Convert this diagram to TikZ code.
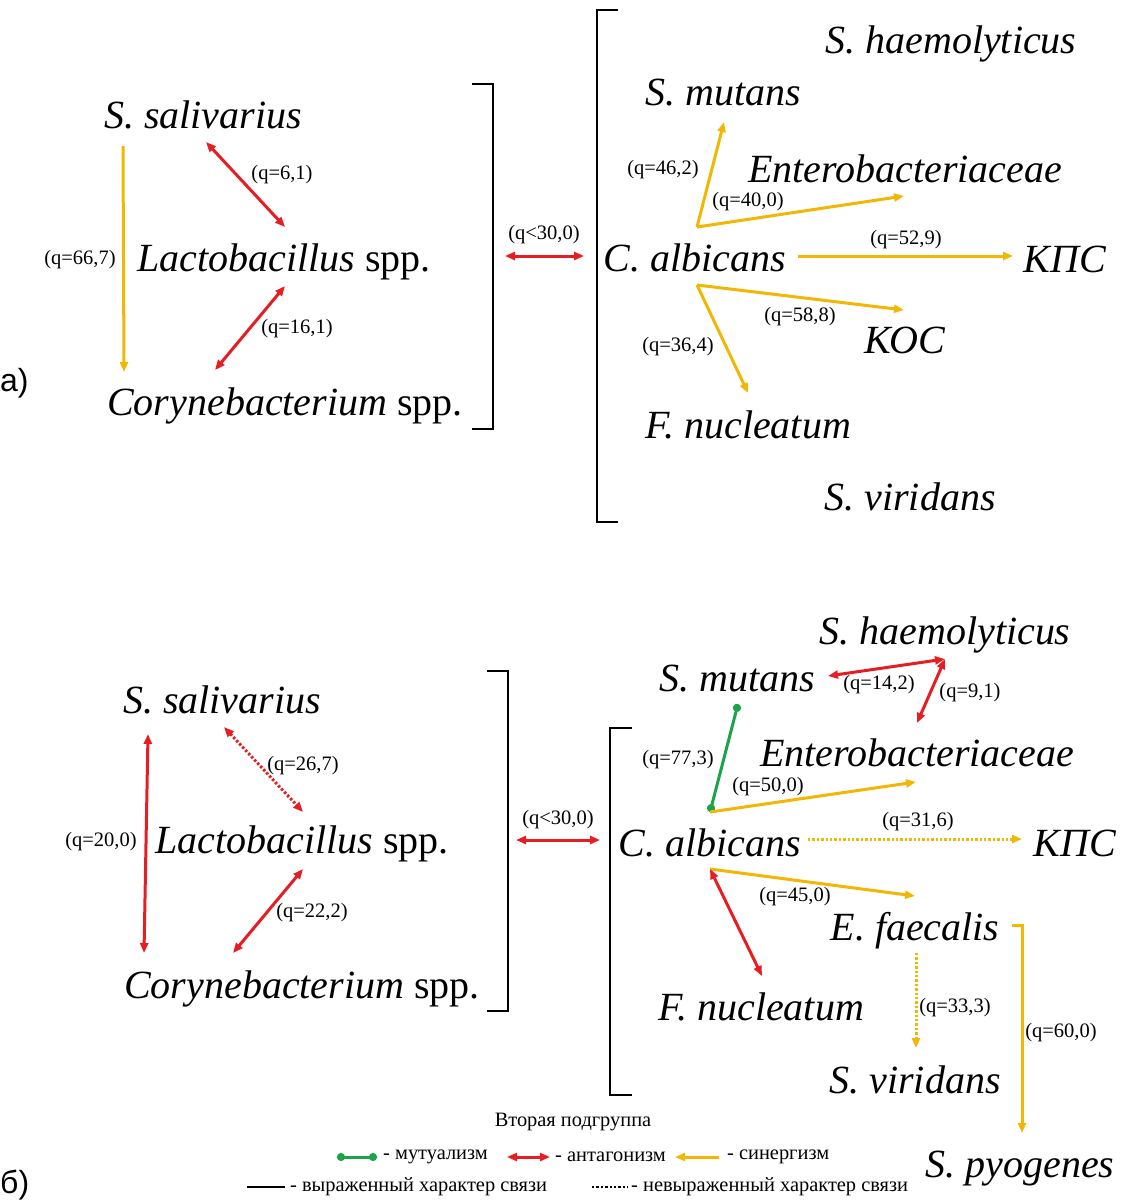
\documentclass[tikz,border=0pt]{standalone}
\usepackage{fontspec}
\setmainfont{Liberation Serif}
\setsansfont{Liberation Sans}
\usetikzlibrary{arrows.meta}
\definecolor{antred}{RGB}{230,30,36}
\definecolor{synyel}{RGB}{242,183,5}
\definecolor{mutgreen}{RGB}{26,163,74}

\begin{document}
\begin{tikzpicture}[
  x=1pt, y=-1pt,
  >={Triangle[length=10pt,width=8pt]},
  sp/.style={inner sep=0pt, anchor=base, font=\fontsize{40}{44}\selectfont\itshape},
  qlab/.style={inner sep=0pt, font=\fontsize{20.5}{24}\selectfont},
  leg/.style={inner sep=0pt, anchor=west, font=\fontsize{20.4}{24}\selectfont},
  panel/.style={inner sep=0pt, anchor=west, font=\sffamily\fontsize{32}{36}\selectfont},
  syn/.style={draw=synyel, line width=3pt, ->},
  ant/.style={draw=antred, line width=3pt, <->},
  mut/.style={draw=mutgreen, line width=3pt, {Circle[length=8pt]}-{Circle[length=8pt]}},
  weak/.style={dash pattern=on 2.4pt off 2pt},
  brk/.style={draw, line width=2.6pt}
]
\useasboundingbox (0,0) rectangle (1122,1203);

% а)
\node[sp] (salA) at (203,128) {S. salivarius};
\node[sp] (lacA) at (284,271) {Lactobacillus {\upshape spp.}};
\node[sp] (corA) at (285,415) {Corynebacterium {\upshape spp.}};
\node[sp] (haemA) at (951,53) {S. haemolyticus};
\node[sp] (mutA) at (723,105) {S. mutans};
\node[sp] (entA) at (905,182) {Enterobacteriaceae};
\node[sp] (albA) at (695,271) {C. albicans};
\node[sp] (kpsA) at (1065,272) {КПС};
\node[sp] (kosA) at (905,353) {КОС};
\node[sp] (fusA) at (748,438) {F. nucleatum};
\node[sp] (virA) at (910,510) {S. viridans};
\node[panel] (pa) at (0,383) {а)};

\draw[brk] (472,84) -| (493,429) -- (472,429);
\draw[brk] (618,10) -| (597,522) -- (618,522);
\coordinate (linkAl) at (505,256);
\coordinate (linkAr) at (584,256);

\draw[syn] ([shift={(-80,18)}]salA.base) -- ([shift={(-161,-43)}]corA.base);
\draw[ant] ([shift={(3,14)}]salA.base) -- ([shift={(1,-44)}]lacA.base);
\draw[ant] ([shift={(1,15)}]lacA.base) -- ([shift={(-70,-45)}]corA.base);
\draw[ant] (linkAl) -- (linkAr);
\coordinate (albTopA) at ([shift={(2,-44)}]albA.base);
\coordinate (albBotA) at ([shift={(2,14)}]albA.base);
\draw[syn] (albTopA) -- ([shift={(1,17)}]mutA.base);
\draw[syn] (albTopA) -- ([shift={(-1,14)}]entA.base);
\draw[syn] ([shift={(103,-15)}]albA.base) -- ([shift={(-52,-16)}]kpsA.base);
\draw[syn] (albBotA) -- ([shift={(-1,-43)}]kosA.base);
\draw[syn] (albBotA) -- ([shift={(0,-45)}]fusA.base);

\node[qlab] (qA1) at (80,260) {(q=66,7)};
\node[qlab] (qA2) at (282,175) {(q=6,1)};
\node[qlab] (qA3) at (297,329) {(q=16,1)};
\node[qlab] (qA4) at (544,235) {(q<30,0)};
\node[qlab] (qA5) at (663,170) {(q=46,2)};
\node[qlab] (qA6) at (748,202) {(q=40,0)};
\node[qlab] (qA7) at (906,240) {(q=52,9)};
\node[qlab] (qA8) at (800,317) {(q=58,8)};
\node[qlab] (qA9) at (678,347) {(q=36,4)};

% б)
\node[sp] (salB) at (222,713) {S. salivarius};
\node[sp] (lacB) at (302,853) {Lactobacillus {\upshape spp.}};
\node[sp] (corB) at (302,998) {Corynebacterium {\upshape spp.}};
\node[sp] (haemB) at (945,644) {S. haemolyticus};
\node[sp] (mutB) at (737,691) {S. mutans};
\node[sp] (entB) at (917,766) {Enterobacteriaceae};
\node[sp] (albB) at (710,856) {C. albicans};
\node[sp] (kpsB) at (1075,856) {КПС};
\node[sp] (faeB) at (915,940) {E. faecalis};
\node[sp] (fusB) at (761,1020) {F. nucleatum};
\node[sp] (virB) at (915,1093) {S. viridans};
\node[sp] (pyoB) at (1020,1177) {S. pyogenes};
\node[panel] (pb) at (0,1185) {б)};

\draw[brk] (487,671) -| (508,1011) -- (487,1011);
\draw[brk] (632,728) -| (610,1095) -- (632,1095);
\coordinate (linkBl) at (516,840);
\coordinate (linkBr) at (600,840);

\draw[ant] ([shift={(-74,21)}]salB.base) -- ([shift={(-158,-45)}]corB.base);
\draw[ant, weak] ([shift={(2,14)}]salB.base) -- ([shift={(1,-41)}]lacB.base);
\draw[ant] ([shift={(1,16)}]lacB.base) -- ([shift={(-69,-45)}]corB.base);
\draw[ant] (linkBl) -- (linkBr);
\coordinate (haemV) at ([shift={(0,15)}]haemB.base);
\draw[ant] ([shift={(91,-15)}]mutB.base) -- (haemV);
\draw[ant] (haemV) -- ([shift={(0,-43)}]entB.base);
\coordinate (albTopB) at ([shift={(0,-44)}]albB.base);
\coordinate (albBotB) at ([shift={(0,13)}]albB.base);
\draw[mut] ([shift={(1,13)}]mutB.base) -- (albTopB);
\draw[syn] (albTopB) -- ([shift={(-1,16)}]entB.base);
\draw[syn, weak] ([shift={(98,-17)}]albB.base) -- ([shift={(-53,-17)}]kpsB.base);
\draw[syn] (albBotB) -- ([shift={(0,-44)}]faeB.base);
\draw[ant] (albBotB) -- ([shift={(1,-44)}]fusB.base);
\draw[syn, weak] ([shift={(1,13)}]faeB.base) -- ([shift={(1,-45)}]virB.base);
\draw[syn] ([shift={(97,-15)}]faeB.base) -| ([shift={(2,-44)}]pyoB.base);

\node[qlab] (qB1) at (101,842) {(q=20,0)};
\node[qlab] (qB2) at (303,766) {(q=26,7)};
\node[qlab] (qB3) at (312,913) {(q=22,2)};
\node[qlab] (qB4) at (558,820) {(q<30,0)};
\node[qlab] (qB5) at (879,685) {(q=14,2)};
\node[qlab] (qB6) at (970,693) {(q=9,1)};
\node[qlab] (qB7) at (678,760) {(q=77,3)};
\node[qlab] (qB8) at (768,787) {(q=50,0)};
\node[qlab] (qB9) at (918,822) {(q=31,6)};
\node[qlab] (qB10) at (795,897) {(q=45,0)};
\node[qlab] (qB11) at (955,1008) {(q=33,3)};
\node[qlab] (qB12) at (1061,1033) {(q=60,0)};

% legend
\node[leg, anchor=center] (legT) at (573,1122) {Вторая подгруппа};
\coordinate (mutL1) at (337,1157);
\coordinate (mutL2) at (377,1157);
\coordinate (antL1) at (507,1157);
\coordinate (antL2) at (550,1157);
\coordinate (synL1) at (719,1157);
\coordinate (synL2) at (675,1157);
\coordinate (strL1) at (247,1187);
\coordinate (strL2) at (285,1187);
\coordinate (weakL1) at (592,1187);
\coordinate (weakL2) at (628,1187);
\draw[mut] (mutL1) -- (mutL2);
\draw[ant] (antL1) -- (antL2);
\draw[syn] (synL1) -- (synL2);
\draw[line width=2.6pt] (strL1) -- (strL2);
\draw[line width=2.6pt, weak] (weakL1) -- (weakL2);
\node[leg] (legMut) at (383,1157) {- мутуализм};
\node[leg] (legAnt) at (555,1157) {- антагонизм};
\node[leg] (legSyn) at (727,1157) {- синергизм};
\node[leg] (legStr) at (290,1187) {- выраженный характер связи};
\node[leg] (legWeak) at (631,1187) {- невыраженный характер связи};
\end{tikzpicture}
\end{document}
